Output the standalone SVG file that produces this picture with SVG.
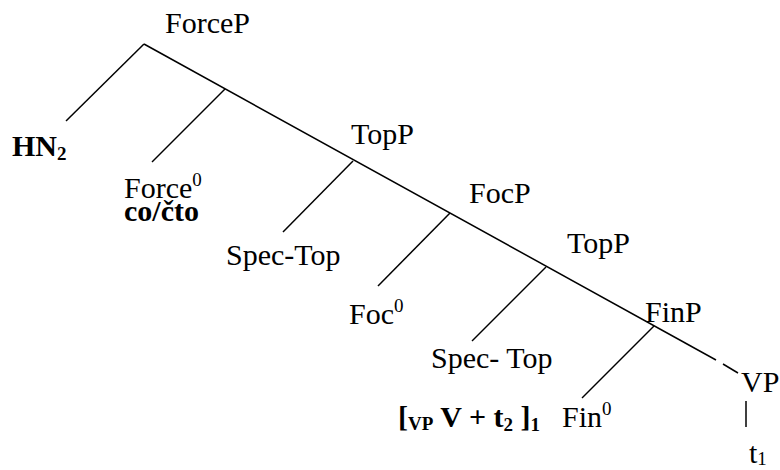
<svg xmlns="http://www.w3.org/2000/svg" width="780" height="470" viewBox="0 0 780 470">
<style>
text{font-family:"Liberation Serif","Times New Roman",serif;font-size:30px;fill:#000}
.b{font-weight:bold}
.sm{font-size:19px}
line{stroke:#000;stroke-width:1.5;fill:none}
</style>
<rect width="780" height="470" fill="#fff"/>
<g id="connectors">
<line x1="144" y1="44" x2="716" y2="360"/>
<line x1="723" y1="364" x2="738" y2="373"/>
<line x1="144" y1="44" x2="66" y2="121"/>
<line x1="225" y1="89" x2="152" y2="162"/>
<line x1="353" y1="161" x2="283" y2="232"/>
<line x1="450" y1="213" x2="378" y2="286"/>
<line x1="546" y1="267" x2="472" y2="341"/>
<line x1="654" y1="326" x2="582" y2="398"/>
<line x1="746" y1="401" x2="746" y2="427"/>
</g>
<g id="ForceP"><text x="165" y="33">ForceP</text></g>
<g id="HN2"><text class="b" x="12" y="156">HN<tspan class="sm" dy="4">2</tspan></text></g>
<g id="Force0"><text x="124" y="198">Force<tspan class="sm" dy="-12">0</tspan></text><text class="b" x="124" y="221">co/čto</text></g>
<g id="TopP1"><text x="351" y="144">TopP</text></g>
<g id="SpecTop1"><text x="226" y="265">Spec-Top</text></g>
<g id="FocP"><text x="469" y="203">FocP</text></g>
<g id="Foc0"><text x="349" y="324">Foc<tspan class="sm" dy="-12">0</tspan></text></g>
<g id="TopP2"><text x="567" y="253">TopP</text></g>
<g id="SpecTop2"><text x="431" y="368">Spec- Top</text><text class="b" x="398" y="427">[<tspan class="sm" dy="3">VP</tspan><tspan dy="-3"> V + t</tspan><tspan class="sm" dy="4">2</tspan><tspan dy="-4"> ]</tspan><tspan class="sm" dy="4">1</tspan></text></g>
<g id="FinP"><text x="645" y="322">FinP</text></g>
<g id="Fin0"><text x="562" y="427">Fin<tspan class="sm" dy="-12">0</tspan></text></g>
<g id="VP"><text x="741" y="392">VP</text></g>
<g id="t1"><text x="749" y="463">t<tspan class="sm" dy="2">1</tspan></text></g>
</svg>
